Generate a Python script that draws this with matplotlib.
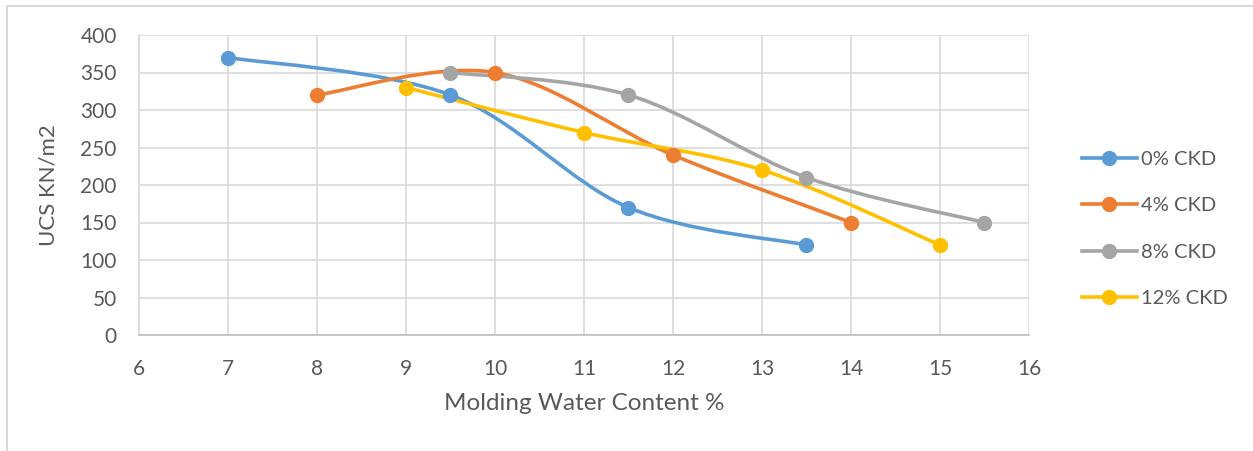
import numpy as np
import matplotlib
matplotlib.use("Agg")
import matplotlib.pyplot as plt
from matplotlib.path import Path
from matplotlib.patches import PathPatch, Rectangle
from matplotlib.lines import Line2D

plt.rcParams['font.family'] = ['Lato', 'DejaVu Sans']

series_names = ["0% CKD", "4% CKD", "8% CKD", "12% CKD"]
x_0 = [7, 9.5, 11.5, 13.5]
y_0 = [370, 320, 170, 120]
x_4 = [8, 10, 12, 14]
y_4 = [320, 350, 240, 150]
x_8 = [9.5, 11.5, 13.5, 15.5]
y_8 = [350, 320, 210, 150]
x_12 = [9, 11, 13, 15]
y_12 = [330, 270, 220, 120]
colors = ["#5B9BD5", "#ED7D31", "#A5A5A5", "#FFC000"]

x_ticks = list(range(6, 17))
y_ticks = list(range(0, 401, 50))

W, H = 1253, 451
fig = plt.figure(figsize=(W / 100, H / 100), dpi=100)
ax = fig.add_axes([139 / W, 1 - 335 / H, (1029 - 139) / W, (335 - 35) / H])

def smooth_path(xs, ys):
    p = np.column_stack([xs, ys]).astype(float)
    n = len(p)
    verts = [p[0]]
    codes = [Path.MOVETO]
    for i in range(n - 1):
        p0 = p[i - 1] if i > 0 else p[i]
        p3 = p[i + 2] if i + 2 < n else p[i + 1]
        c1 = p[i] + (p[i + 1] - p0) / 6
        c2 = p[i + 1] - (p3 - p[i]) / 6
        verts += [c1, c2, p[i + 1]]
        codes += [Path.CURVE4] * 3
    return Path(verts, codes)

data = [(x_0, y_0), (x_4, y_4), (x_8, y_8), (x_12, y_12)]
handles = []
for (xs, ys), c, name in zip(data, colors, series_names):
    ax.add_patch(PathPatch(smooth_path(xs, ys), facecolor="none", edgecolor=c,
                           lw=2.6, capstyle="round", joinstyle="round", zorder=3))
    ax.plot(xs, ys, "o", color=c, ms=10, zorder=4)
    handles.append(Line2D([], [], color=c, lw=2.6, marker="o", ms=10))

ax.set_xlim(6, 16)
ax.set_ylim(0, 400)
ax.set_xticks(x_ticks)
ax.set_yticks(y_ticks)
ax.grid(True, color="#D9D9D9", lw=1.2)
ax.set_axisbelow(True)
for s in ["top", "right"]:
    ax.spines[s].set_visible(False)
for s in ["left", "bottom"]:
    ax.spines[s].set_color("#D9D9D9")
    ax.spines[s].set_linewidth(1.2)
ax.spines["bottom"].set_color("#BFBFBF")
ax.tick_params(length=0, labelsize=15, labelcolor="#595959")
ax.tick_params(axis="x", pad=17)
ax.tick_params(axis="y", pad=16)

ax.set_xlabel("Molding Water Content %", fontsize=17.5, color="#595959", labelpad=10)
ax.set_ylabel("UCS KN/m2", fontsize=16, color="#595959", labelpad=16)

fig.legend(handles, series_names, loc="center left", bbox_to_anchor=(1064 / W, 1 - 229 / H),
           frameon=False, fontsize=14.5, labelcolor="#595959", handlelength=2.7,
           handletextpad=0.2, labelspacing=1.45)

fig.patches.append(Rectangle((7 / W, -0.1), 1.2, 1 - 6 / H + 0.1, transform=fig.transFigure,
                             fill=False, edgecolor="#D9D9D9", lw=1.5))

fig.savefig("out.png", dpi=100)
